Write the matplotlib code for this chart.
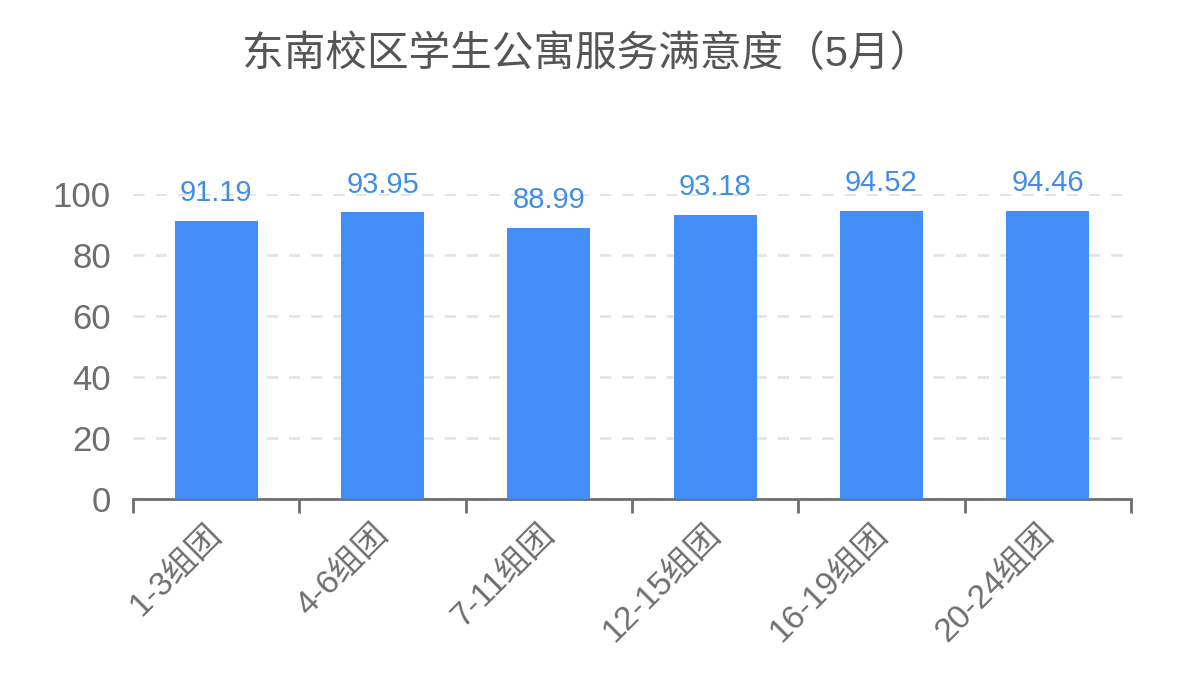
import numpy as np
import matplotlib
matplotlib.use("Agg")
import matplotlib.pyplot as plt

plt.rcParams['font.family'] = ['Liberation Sans', 'Noto Sans CJK SC', 'DejaVu Sans']

# data
groups = ['1-3组团', '4-6组团', '7-11组团', '12-15组团', '16-19组团', '20-24组团']
scores = [91.19, 93.95, 88.99, 93.18, 94.52, 94.46]
title = '东南校区学生公寓服务满意度（5月）'

bar_color = '#428ef6'
label_color = '#3f8de8'
axis_color = '#6e6e6e'
text_color = '#6e6e6e'

fig = plt.figure(figsize=(11.79, 6.87), dpi=100)
ax = fig.add_axes([133 / 1179, 1 - 499 / 687, (1131 - 133) / 1179, (499 - 194) / 687])

x = np.arange(len(groups))
bars = ax.bar(x, scores, width=0.5, color=bar_color, zorder=3)

for xi, v in zip(x, scores):
    ax.text(xi, v + 4.5, f'{v:.2f}', ha='center', va='bottom', fontsize=21,
            color=label_color, clip_on=False)

ax.set_xlim(-0.5, len(groups) - 0.5)
ax.set_ylim(0, 100)
ax.set_yticks([0, 20, 40, 60, 80, 100])

# ticks sit on category boundaries, labels under the centres (nudged left a bit)
ax.set_xticks(np.arange(len(groups) + 1) - 0.5)
ax.set_xticklabels([])
ax.set_xticks(x - 0.06, minor=True)
ax.set_xticklabels(groups, minor=True, rotation=45, ha='right', va='top',
                   rotation_mode='anchor', fontsize=24, color=text_color)
ax.tick_params(axis='x', which='major', length=10, width=2, color=axis_color)
ax.tick_params(axis='x', which='minor', length=0, pad=14)
ax.tick_params(axis='y', length=0, labelsize=25, labelcolor=text_color, pad=16)

for s in ['top', 'right', 'left']:
    ax.spines[s].set_visible(False)
ax.spines['bottom'].set_color(axis_color)
ax.spines['bottom'].set_linewidth(2)

ax.yaxis.grid(True, color='#e3e3e3', linewidth=2, linestyle=(0, (4, 4)), zorder=0)
ax.set_axisbelow(True)

fig.text(587 / 1179, 1 - 55 / 687, title, ha='center', va='center',
         fontsize=30, color='#555555')

fig.savefig('out.png', dpi=100)
